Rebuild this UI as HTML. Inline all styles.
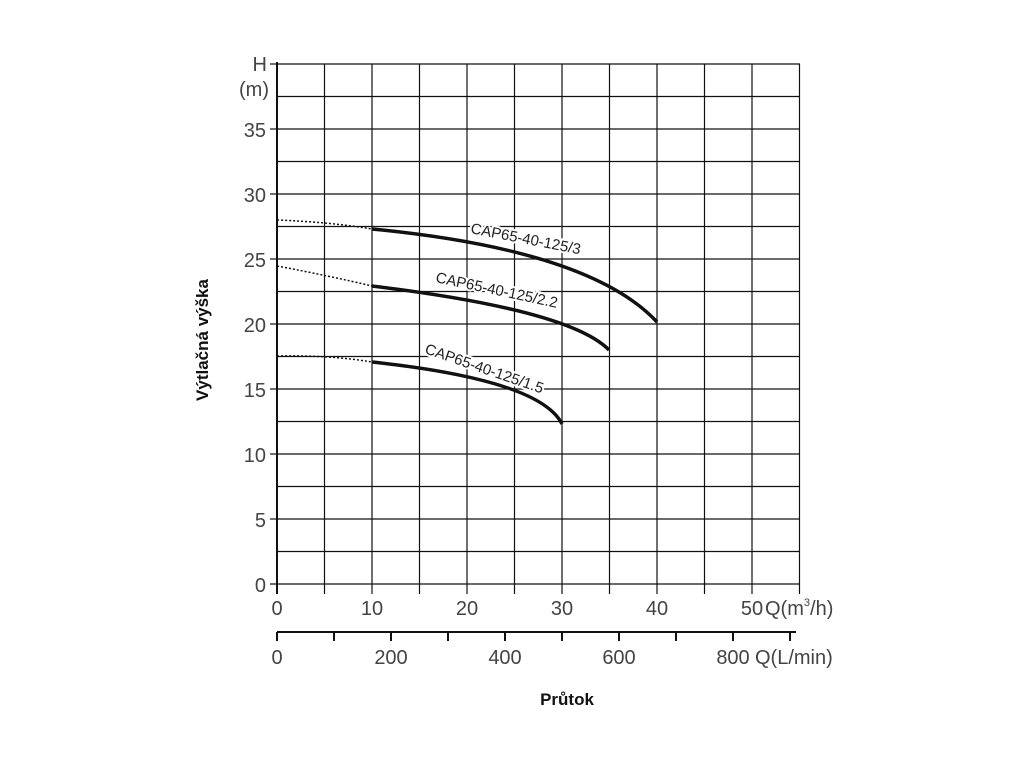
<!DOCTYPE html>
<html><head><style>body{margin:0;background:#fff}</style></head><body>
<svg width="1024" height="768" xmlns="http://www.w3.org/2000/svg" font-family="Liberation Sans, sans-serif">
<g stroke="#111" stroke-width="1.2">
<line x1="277" y1="64" x2="800" y2="64"/><line x1="277" y1="96.5" x2="800" y2="96.5"/><line x1="277" y1="129" x2="800" y2="129"/><line x1="277" y1="161.5" x2="800" y2="161.5"/><line x1="277" y1="194" x2="800" y2="194"/><line x1="277" y1="226.5" x2="800" y2="226.5"/><line x1="277" y1="259" x2="800" y2="259"/><line x1="277" y1="291.5" x2="800" y2="291.5"/><line x1="277" y1="324" x2="800" y2="324"/><line x1="277" y1="356.5" x2="800" y2="356.5"/><line x1="277" y1="389" x2="800" y2="389"/><line x1="277" y1="421.5" x2="800" y2="421.5"/><line x1="277" y1="454" x2="800" y2="454"/><line x1="277" y1="486.5" x2="800" y2="486.5"/><line x1="277" y1="519" x2="800" y2="519"/><line x1="277" y1="551.5" x2="800" y2="551.5"/><line x1="270" y1="584" x2="800" y2="584"/>
<line x1="270" y1="64" x2="277" y2="64"/><line x1="270" y1="129" x2="277" y2="129"/><line x1="270" y1="194" x2="277" y2="194"/><line x1="270" y1="259" x2="277" y2="259"/><line x1="270" y1="324" x2="277" y2="324"/><line x1="270" y1="389" x2="277" y2="389"/><line x1="270" y1="454" x2="277" y2="454"/><line x1="270" y1="519" x2="277" y2="519"/>
<line x1="324.5" y1="64" x2="324.5" y2="594"/><line x1="372" y1="64" x2="372" y2="594"/><line x1="419.5" y1="64" x2="419.5" y2="594"/><line x1="467" y1="64" x2="467" y2="594"/><line x1="514.5" y1="64" x2="514.5" y2="594"/><line x1="562" y1="64" x2="562" y2="594"/><line x1="609.5" y1="64" x2="609.5" y2="594"/><line x1="657" y1="64" x2="657" y2="594"/><line x1="704.5" y1="64" x2="704.5" y2="594"/><line x1="752" y1="64" x2="752" y2="594"/><line x1="799.5" y1="64" x2="799.5" y2="594"/>
</g>
<line x1="277" y1="62" x2="277" y2="594" stroke="#111" stroke-width="2"/>
<line x1="277" y1="632" x2="796" y2="632" stroke="#111" stroke-width="2"/>
<g stroke="#111" stroke-width="2">
<line x1="277" y1="632" x2="277" y2="641"/><line x1="334" y1="632" x2="334" y2="641"/><line x1="391" y1="632" x2="391" y2="641"/><line x1="448" y1="632" x2="448" y2="641"/><line x1="505" y1="632" x2="505" y2="641"/><line x1="562" y1="632" x2="562" y2="641"/><line x1="619" y1="632" x2="619" y2="641"/><line x1="676" y1="632" x2="676" y2="641"/><line x1="733" y1="632" x2="733" y2="641"/><line x1="790" y1="632" x2="790" y2="641"/>
</g>
<g fill="#444" font-size="20" text-anchor="end">
<text x="267" y="71">H</text><text x="269" y="96">(m)</text>
<text x="266" y="137">35</text><text x="266" y="202">30</text><text x="266" y="267">25</text><text x="266" y="332">20</text><text x="266" y="397">15</text><text x="266" y="462">10</text><text x="266" y="527">5</text><text x="266" y="592">0</text>
</g>
<g fill="#444" font-size="20" text-anchor="middle">
<text x="277" y="615">0</text><text x="372" y="615">10</text><text x="467" y="615">20</text><text x="562" y="615">30</text><text x="657" y="615">40</text><text x="752" y="615">50</text>
<text x="277" y="664">0</text><text x="391" y="664">200</text><text x="505" y="664">400</text><text x="619" y="664">600</text><text x="733" y="664">800</text>
</g>
<text x="765" y="615" fill="#444" font-size="20">Q(m<tspan font-size="11" dy="-9">3</tspan><tspan dy="9">/h)</tspan></text>
<text x="755" y="664" fill="#444" font-size="20">Q(L/min)</text>
<text x="567" y="705" font-size="17" font-weight="bold" text-anchor="middle" fill="#111">Průtok</text>
<text transform="translate(208,340) rotate(-90)" font-size="17" font-weight="bold" text-anchor="middle" fill="#111">Výtlačná výška</text>
<g fill="none" stroke="#111">
<path d="M277 220 Q330 222 372 229" stroke-width="1.5" stroke-dasharray="2,2"/>
<path d="M372 229 Q590 250 657 322" stroke-width="3.5"/>
<path d="M277 266 Q330 276 372 286" stroke-width="1.5" stroke-dasharray="2,2"/>
<path d="M372 286 Q570 310 609 350" stroke-width="3.5"/>
<path d="M277 356 Q330 355 372 362" stroke-width="1.5" stroke-dasharray="2,2"/>
<path d="M372 362 Q540 380 562 424" stroke-width="3.5"/>
</g>
<g font-size="15" fill="#222" stroke="#fff" stroke-width="4" paint-order="stroke">
<text transform="translate(470,233) rotate(11)">CAP65-40-125/3</text>
<text transform="translate(435,282) rotate(12)">CAP65-40-125/2.2</text>
<text transform="translate(424,353) rotate(19)">CAP65-40-125/1.5</text>
</g>
</svg>
</body></html>
